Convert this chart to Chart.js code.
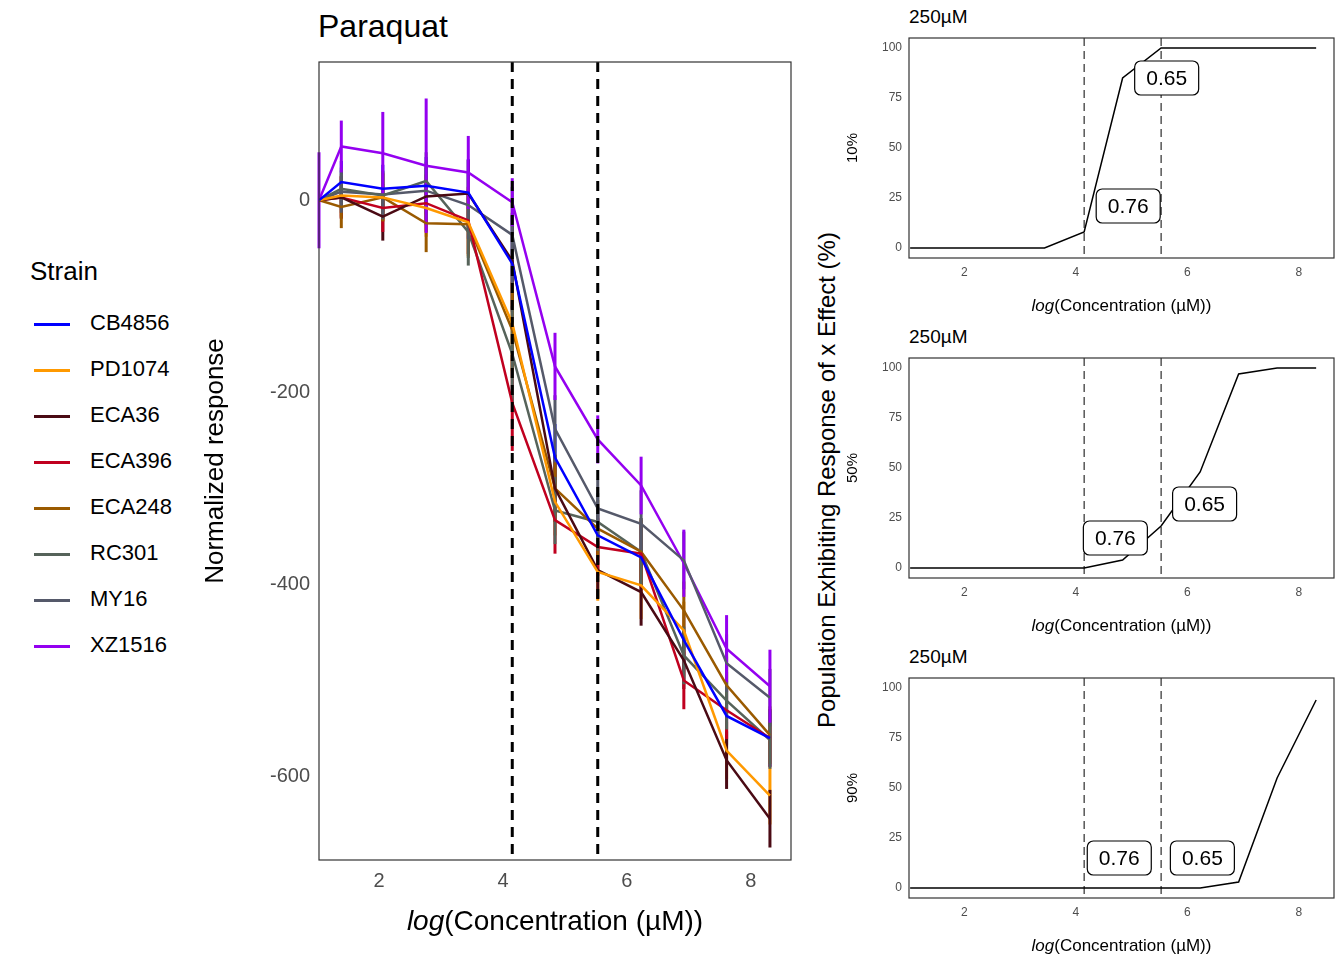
<!DOCTYPE html>
<html><head><meta charset="utf-8">
<script src="https://cdn.jsdelivr.net/npm/chart.js@4.4.1/dist/chart.umd.min.js"></script>
<style>
body{margin:0;background:#fff;font-family:Arial,"Liberation Sans",sans-serif;}
#wrap{position:relative;width:1344px;height:960px;}
.box{position:absolute;}
.t{position:absolute;color:#000;white-space:nowrap;}
.leg{position:absolute;left:34px;font-size:22px;}
.leg span{display:inline-block;width:36px;height:3px;vertical-align:middle;margin-right:20px;}
</style></head><body>
<div id="wrap">
  <div class="t" style="left:318px;top:8px;font-size:32px;">Paraquat</div>
  <div class="t" style="left:30px;top:256px;font-size:26px;">Strain</div>
  <div id="legend"></div>
  <div class="box" style="left:200px;top:0;width:600px;height:960px;"><canvas id="main"></canvas></div>
  <div class="t" style="left:909px;top:6px;font-size:19px;">250µM</div>
  <div class="t" style="left:909px;top:326px;font-size:19px;">250µM</div>
  <div class="t" style="left:909px;top:646px;font-size:19px;">250µM</div>
  <div class="t" style="left:827px;top:480px;font-size:24px;transform:translate(-50%,-50%) rotate(-90deg);">Population Exhibiting Response of x Effect (%)</div>
  <div class="box" style="left:840px;top:0;width:504px;height:320px;"><canvas id="p10"></canvas></div>
  <div class="box" style="left:840px;top:320px;width:504px;height:320px;"><canvas id="p50"></canvas></div>
  <div class="box" style="left:840px;top:640px;width:504px;height:320px;"><canvas id="p90"></canvas></div>
</div>
<script>
/* ── data ── */
const logConc = [1.03, 1.39, 2.06, 2.76, 3.44, 4.15, 4.84, 5.53, 6.23, 6.92, 7.61, 8.31];
const strains = ['CB4856', 'PD1074', 'ECA36', 'ECA396', 'ECA248', 'RC301', 'MY16', 'XZ1516'];
const colors  = ['#0000ff', '#ff9900', '#4a0a14', '#c0001f', '#9a5a00', '#56635a', '#55596a', '#9400f0'];

const CB4856 = [0, 19, 12, 15, 8, -66, -268, -349, -372, -458, -537, -560];
const PD1074 = [0, 5, 3, -8, -23, -128, -314, -387, -401, -448, -573, -620];
const ECA36  = [0, 3, -17, 4, 7, -63, -300, -385, -408, -479, -583, -644];
const ECA396 = [0, 3, -8, -3, -21, -211, -333, -361, -368, -500, -531, -560];
const ECA248 = [0, -7, 3, -24, -25, -135, -300, -342, -366, -427, -505, -557];
const RC301  = [0, 12, 5, 20, -33, -160, -323, -335, -366, -474, -521, -562];
const MY16   = [0, 9, 6, 10, -5, -36, -238, -321, -337, -375, -482, -518];
const XZ1516 = [0, 56, 49, 36, 29, -2, -173, -249, -297, -378, -467, -506];

const errXZ    = [50, 27, 43, 70, 38, 25, 35, 25, 30, 35, 35, 38];
const errOther = [0, 22, 25, 30, 35, 50, 35, 30, 35, 30, 30, 30];

const thresholds = [4.15, 5.53];

const pop10 = [0, 0, 0, 0, 0, 8, 85, 100, 100, 100, 100, 100];
const pop50 = [0, 0, 0, 0, 0, 0, 4, 21, 48, 97, 100, 100];
const pop90 = [0, 0, 0, 0, 0, 0, 0, 0, 0, 3, 55, 94];

const labels10 = [['0.65', 5.63, 85], ['0.76', 4.94, 21]];
const labels50 = [['0.76', 4.71, 15], ['0.65', 6.31, 32]];
const labels90 = [['0.76', 4.78, 15], ['0.65', 6.27, 15]];

const series = [CB4856, PD1074, ECA36, ECA396, ECA248, RC301, MY16, XZ1516];
const FONT = 'Arial, "Liberation Sans", sans-serif';

/* legend */
document.getElementById('legend').innerHTML = strains.map((s, i) =>
  `<div class="leg" style="top:${310 + i * 46}px"><span style="background:${colors[i]}"></span>${s}</div>`).join('');

const vlines = {
  id: 'vlines',
  afterDatasetsDraw(chart, args, opts) {
    const { ctx, chartArea: a, scales: { x } } = chart;
    ctx.save();
    ctx.strokeStyle = '#000';
    ctx.lineWidth = opts.width;
    ctx.setLineDash(opts.dash);
    thresholds.forEach(v => {
      const px = x.getPixelForValue(v);
      ctx.beginPath(); ctx.moveTo(px, a.top); ctx.lineTo(px, a.bottom); ctx.stroke();
    });
    ctx.restore();
  },
};

const errBars = {
  id: 'errBars',
  beforeDatasetsDraw(chart) {
    const { ctx, scales: { x, y } } = chart;
    ctx.save();
    ctx.lineWidth = 3;
    series.forEach((s, i) => {
      const err = i === 7 ? errXZ : errOther;
      ctx.strokeStyle = colors[i];
      s.forEach((v, j) => {
        const px = x.getPixelForValue(logConc[j]);
        ctx.beginPath();
        ctx.moveTo(px, y.getPixelForValue(v - err[j]));
        ctx.lineTo(px, y.getPixelForValue(v + err[j]));
        ctx.stroke();
      });
    });
    ctx.restore();
  },
};

const boxLabels = {
  id: 'boxLabels',
  afterDatasetsDraw(chart, args, opts) {
    const { ctx, scales: { x, y } } = chart;
    ctx.save();
    ctx.font = '21px ' + FONT;
    ctx.textAlign = 'center'; ctx.textBaseline = 'middle';
    (opts.items || []).forEach(([t, lx, ly]) => {
      const px = x.getPixelForValue(lx), py = y.getPixelForValue(ly);
      const w = 64, h = 34;
      ctx.beginPath();
      ctx.roundRect(px - w / 2, py - h / 2, w, h, 6);
      ctx.fillStyle = '#fff'; ctx.fill();
      ctx.strokeStyle = '#000'; ctx.lineWidth = 1.2; ctx.stroke();
      ctx.fillStyle = '#000'; ctx.fillText(t, px, py + 1);
    });
    ctx.restore();
  },
};

const frame = {
  id: 'frame',
  afterDraw(chart) {
    const { ctx, chartArea: a } = chart;
    ctx.save(); ctx.strokeStyle = '#333'; ctx.lineWidth = 1.2;
    ctx.strokeRect(a.left, a.top, a.right - a.left, a.bottom - a.top);
    ctx.restore();
  },
};

const xTitle = {
  id: 'xTitle',
  afterDraw(chart, args, opts) {
    const { ctx, chartArea: a } = chart;
    ctx.save(); ctx.fillStyle = '#000'; ctx.textBaseline = 'middle';
    const rest = '(Concentration (µM))';
    ctx.font = 'italic ' + opts.size + 'px ' + FONT;
    const w1 = ctx.measureText('log').width;
    ctx.font = opts.size + 'px ' + FONT;
    const w2 = ctx.measureText(rest).width;
    const x0 = (a.left + a.right) / 2 - (w1 + w2) / 2;
    ctx.font = 'italic ' + opts.size + 'px ' + FONT;
    ctx.fillText('log', x0, a.bottom + opts.off);
    ctx.font = opts.size + 'px ' + FONT;
    ctx.fillText(rest, x0 + w1, a.bottom + opts.off);
    ctx.restore();
  },
};

/* ── main chart ── */
new Chart(document.getElementById('main'), {
  type: 'line',
  data: {
    datasets: strains.map((s, i) => ({
      label: s,
      data: series[i].map((v, j) => ({ x: logConc[j], y: v })),
      borderColor: colors[i], borderWidth: 2.5, pointRadius: 0, tension: 0,
    })),
  },
  options: {
    responsive: true, maintainAspectRatio: false, animation: false,
    layout: { padding: { top: 62, right: 9, left: 0, bottom: 0 } },
    plugins: { legend: { display: false }, tooltip: { enabled: false },
      vlines: { width: 3, dash: [10, 7] }, xTitle: { size: 28, off: 62 } },
    scales: {
      x: {
        type: 'linear', min: 1.03, max: 8.65,
        afterFit: s => { s.height = 100; },
        grid: { display: false, drawTicks: true, tickLength: 6, tickColor: '#333' },
        border: { display: false },
        ticks: { stepSize: 2, color: '#4d4d4d', font: { family: FONT, size: 20 },
          callback: v => (v % 2 === 0 ? v : null) },
        afterBuildTicks: s => { s.ticks = [2, 4, 6, 8].map(v => ({ value: v })); },
      },
      y: {
        min: -687, max: 144,
        afterFit: s => { s.width = 119; },
        afterBuildTicks: s => { s.ticks = [0, -200, -400, -600].map(v => ({ value: v })); },
        grid: { display: false, tickLength: 6, tickColor: '#333' },
        border: { display: false },
        title: { display: true, text: 'Normalized response', color: '#000', font: { family: FONT, size: 26 }, padding: 0 },
        ticks: { color: '#4d4d4d', font: { family: FONT, size: 20 } },
      },
    },
  },
  plugins: [errBars, vlines, frame, xTitle],
});

/* ── population panels ── */
function popPanel(id, values, yLabel, items) {
  new Chart(document.getElementById(id), {
    type: 'line',
    data: { datasets: [{ data: values.map((v, j) => ({ x: logConc[j], y: v })),
      borderColor: '#000', borderWidth: 1.5, pointRadius: 0, tension: 0 }] },
    options: {
      responsive: true, maintainAspectRatio: false, animation: false,
      layout: { padding: { top: 38, right: 10, left: 0, bottom: 0 } },
      plugins: { legend: { display: false }, tooltip: { enabled: false },
        vlines: { width: 1, dash: [8, 5] }, boxLabels: { items }, xTitle: { size: 17, off: 48 } },
      scales: {
        x: {
          type: 'linear', min: 1.01, max: 8.63,
          afterFit: s => { s.height = 62; },
          afterBuildTicks: s => { s.ticks = [2, 4, 6, 8].map(v => ({ value: v })); },
          grid: { display: false, tickLength: 4, tickColor: '#333' },
          border: { display: false },
          ticks: { color: '#4d4d4d', font: { family: FONT, size: 12 } },
        },
        y: {
          min: -5, max: 105,
          afterFit: s => { s.width = 69; },
          afterBuildTicks: s => { s.ticks = [0, 25, 50, 75, 100].map(v => ({ value: v })); },
          grid: { display: false, tickLength: 4, tickColor: '#333' },
          border: { display: false },
          title: { display: true, text: yLabel, color: '#000', font: { family: FONT, size: 15 }, padding: { bottom: 12 } },
          ticks: { color: '#4d4d4d', font: { family: FONT, size: 12 } },
        },
      },
    },
    plugins: [vlines, boxLabels, frame, xTitle],
  });
}
popPanel('p10', pop10, '10%', labels10);
popPanel('p50', pop50, '50%', labels50);
popPanel('p90', pop90, '90%', labels90);
</script>
</body></html>
